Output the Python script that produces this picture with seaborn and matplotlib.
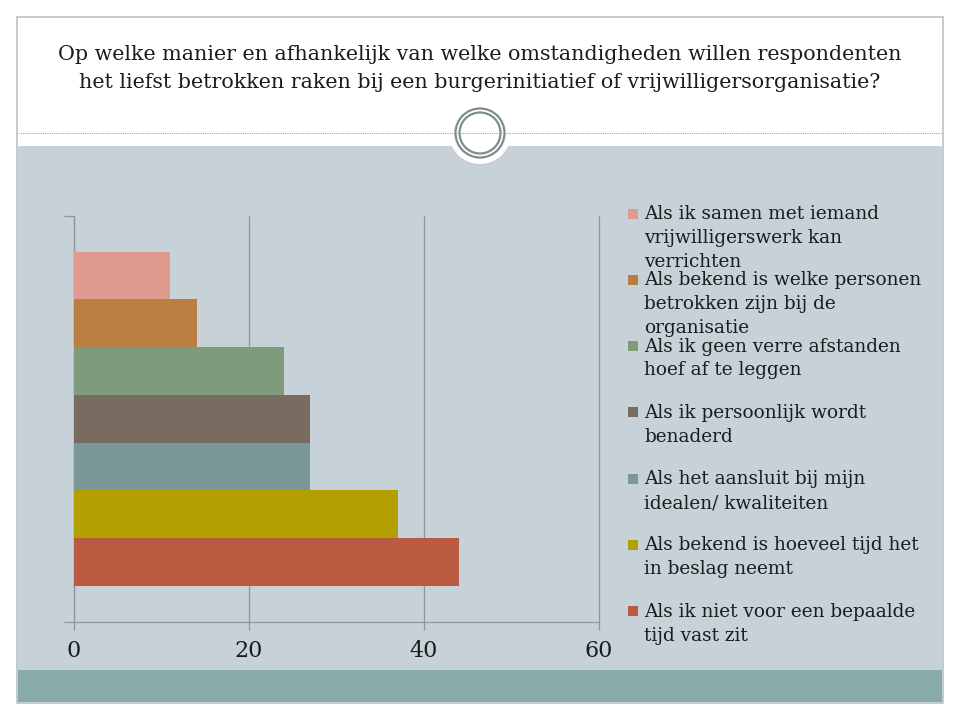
import matplotlib
matplotlib.use('Agg')
import matplotlib.pyplot as plt
import seaborn as sns
import pandas as pd
from matplotlib.patches import Rectangle, Circle

# ---------------- data ----------------
categories = [
    "Als ik samen met iemand\nvrijwilligerswerk kan\nverrichten",
    "Als bekend is welke personen\nbetrokken zijn bij de\norganisatie",
    "Als ik geen verre afstanden\nhoef af te leggen",
    "Als ik persoonlijk wordt\nbenaderd",
    "Als het aansluit bij mijn\nidealen/ kwaliteiten",
    "Als bekend is hoeveel tijd het\nin beslag neemt",
    "Als ik niet voor een bepaalde\ntijd vast zit",
]
values = [11, 14, 24, 27, 27, 37, 44]
colors = ["#e09a90", "#b97e42", "#7e9b7b", "#786b60", "#7b9799", "#b39f00", "#b95a41"]
xticks = [0, 20, 40, 60]
title_lines = [
    "Op welke manier en afhankelijk van welke omstandigheden willen respondenten",
    "het liefst betrokken raken bij een burgerinitiatief of vrijwilligersorganisatie?",
]

sns.set_theme(style="white")
plt.rcParams['font.family'] = ['DejaVu Serif']
TXT = "#1c1c1c"
W, H = 960, 720

fig = plt.figure(figsize=(9.6, 7.2), dpi=100, facecolor="white")

# ---------------- slide decoration (pixel coords) ----------------
bg = fig.add_axes([0, 0, 1, 1])
bg.set_xlim(0, W)
bg.set_ylim(H, 0)
bg.axis('off')
bg.add_patch(Rectangle((17, 17), 926, 686, facecolor="white", edgecolor="#b9c4c4", lw=1.2))
bg.add_patch(Rectangle((18, 146), 924, 524, facecolor="#c6d1d8", edgecolor="none"))
bg.add_patch(Rectangle((18, 670), 924, 32, facecolor="#8aabab", edgecolor="none"))
bg.plot([18, 942], [133, 133], color="#9aa5a8", lw=0.8, ls=(0, (1, 1)))
bg.add_patch(Circle((480, 133), 31, facecolor="white", edgecolor="none"))
bg.add_patch(Circle((480, 133), 24.5, facecolor="white", edgecolor="#7f8c8d", lw=1.6))
bg.add_patch(Circle((480, 133), 20.5, facecolor="none", edgecolor="#7f8c8d", lw=1.6))

for i, line in enumerate(title_lines):
    bg.text(480, 55 + i * 27, line, ha="center", va="center", fontsize=14.9, color=TXT)

# ---------------- chart ----------------
left, right, top, bottom = 74, 599, 215.7, 621.7
ax = fig.add_axes([left / W, 1 - bottom / H, (right - left) / W, (bottom - top) / H])
ax.patch.set_alpha(0)

df = pd.DataFrame({"cat": categories, "val": values})
sns.barplot(data=df, x="val", y="cat", hue="cat", palette=colors, width=1.0,
            saturation=1, linewidth=0, legend=False, ax=ax, orient="h", zorder=3)

pad = 0.755
ax.set_ylim(len(values) - 0.5 + pad, -0.5 - pad)
ax.set_xlim(0, 60)
ax.set_xticks(xticks)
ax.set_xticklabels([str(t) for t in xticks], fontsize=16, color=TXT)
ax.set_yticks([len(values) - 0.5 + pad, -0.5 - pad])
ax.set_yticklabels([])
ax.set_xlabel("")
ax.set_ylabel("")
ax.grid(axis="x", color="#8e979c", lw=0.9, zorder=0)
ax.grid(axis="y", visible=False)
for gl in ax.get_xgridlines():
    gl.set_clip_on(False)
for s in ["top", "right"]:
    ax.spines[s].set_visible(False)
for s in ["left", "bottom"]:
    ax.spines[s].set_color("#8e979c")
    ax.spines[s].set_linewidth(0.9)
ax.tick_params(axis="x", length=6, width=0.9, color="#8e979c", pad=7, direction="out")
ax.tick_params(axis="y", length=7, width=0.9, color="#8e979c", direction="out")
ax.tick_params(bottom=True, left=True)

# ---------------- legend (manual, slide style) ----------------
y0, step, pitch = 214, 66.3, 23.8
for i, (lab, col) in enumerate(zip(categories, colors)):
    yy = y0 + i * step
    bg.add_patch(Rectangle((628, yy - 5.5), 10, 10, facecolor=col, edgecolor="none"))
    for j, ln in enumerate(lab.split("\n")):
        bg.text(644, yy + j * pitch, ln, ha="left", va="center", fontsize=13.3, color=TXT)

fig.savefig("out.png", dpi=100, facecolor=fig.get_facecolor())
